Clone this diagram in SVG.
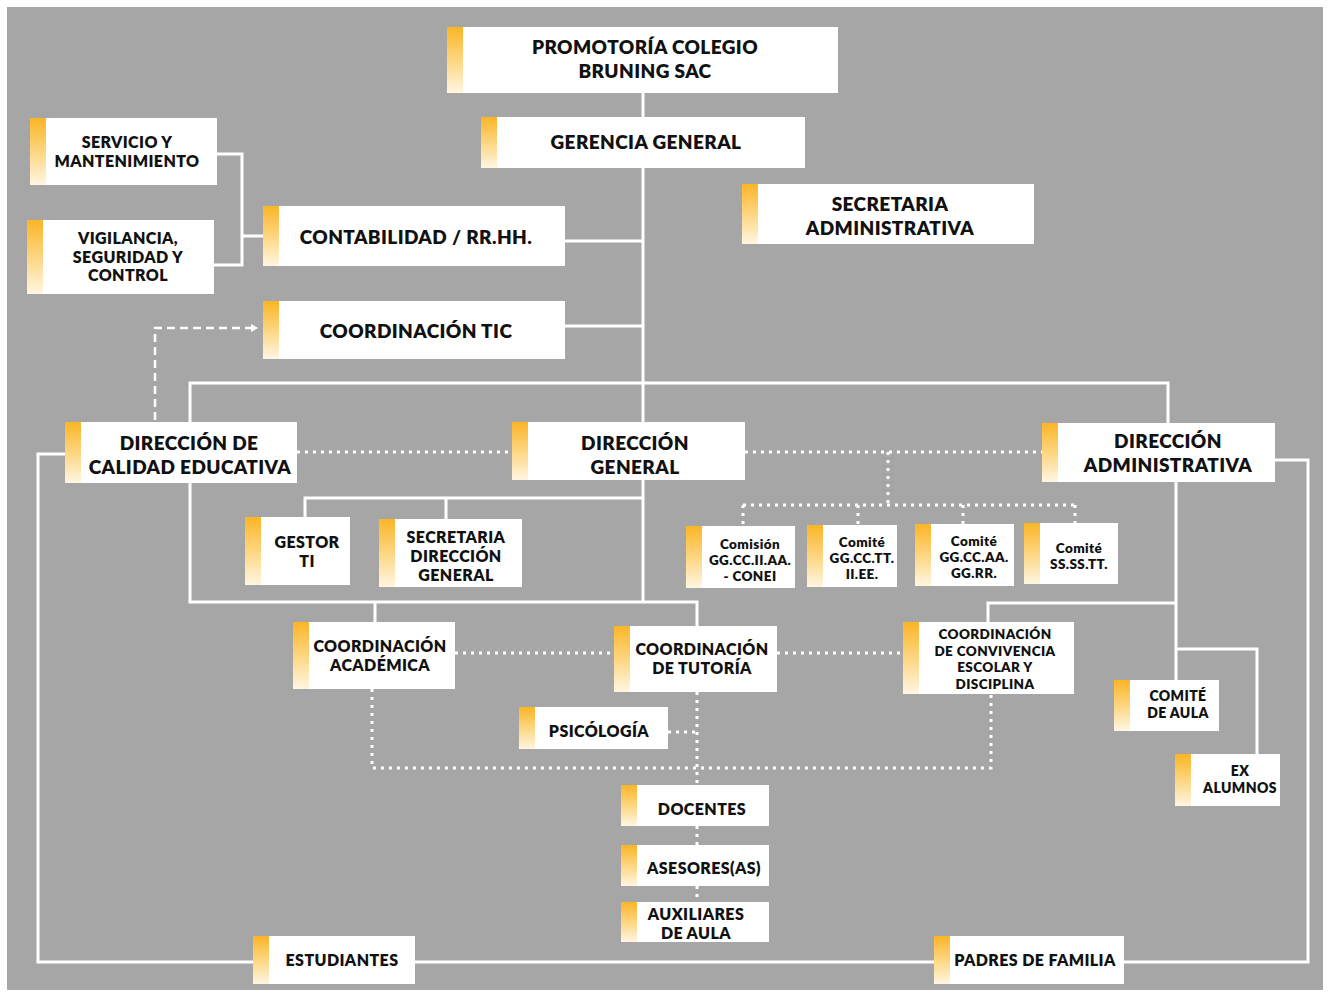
<svg xmlns="http://www.w3.org/2000/svg" width="1330" height="996" viewBox="0 0 1330 996">
<defs>
<linearGradient id="accg" x1="0" y1="0" x2="0" y2="1">
<stop offset="0" stop-color="#fbb526"/>
<stop offset="0.55" stop-color="#fdd98a"/>
<stop offset="1" stop-color="#fff6e2"/>
</linearGradient>
<marker id="arr" markerWidth="8" markerHeight="8" refX="6" refY="4" orient="auto" markerUnits="userSpaceOnUse">
<path d="M0,0 L7,4 L0,8 Z" fill="#ffffff"/>
</marker>
<style>
.box{fill:#ffffff}
.acc{fill:url(#accg)}
text{font-family:"Lato","Open Sans","DejaVu Sans",sans-serif;font-weight:800;fill:#111111;text-anchor:middle;letter-spacing:0.4px}
.t19{font-size:19px}
.t16{font-size:16px}
.t14{font-size:14px}
.t13{font-size:13.5px}
.solid{fill:none;stroke:#ffffff;stroke-width:3}
.dot{fill:none;stroke:#ffffff;stroke-width:3;stroke-dasharray:3 5}
.dash{fill:none;stroke:#ffffff;stroke-width:2.5;stroke-dasharray:8 5}
</style>
</defs>
<rect x="0" y="0" width="1330" height="996" fill="#ffffff"/>
<rect x="7" y="7" width="1316" height="983" fill="#a6a6a6"/>

<g id="connectors">
<path class="solid" d="M643 93 V422"/>
<path class="solid" d="M565 241 H643"/>
<path class="solid" d="M565 326 H643"/>
<path class="solid" d="M217 154 H242 V265 H214 M242 236 H263"/>
<path class="solid" d="M190 422 V383 H1168 V423"/>
<path class="solid" d="M190 483 V602 H697 V626 M643 480 V602 M375 602 V622"/>
<path class="solid" d="M305 517 V498 H643 M446 498 V519"/>
<path class="solid" d="M1176 482 V680 M988 622 V603 H1176 M1176 649 H1257 V754"/>
<path class="solid" d="M65 454 H38 V962 H253 M415 962 H934 M1124 962 H1308 V460 H1275"/>
<path class="dash" d="M155 420 V328 H257" marker-end="url(#arr)"/>
<path class="dot" d="M297 452 H512"/>
<path class="dot" d="M745 452 H1042"/>
<path class="dot" d="M888 452 V505 M743 505 H1075 M743 505 V526 M858 505 V525 M963 505 V524 M1075 505 V523"/>
<path class="dot" d="M455 653 H614 M777 653 H903"/>
<path class="dot" d="M372 689 V768 H991 V694"/>
<path class="dot" d="M697 692 V785 M697 826 V845 M697 886 V902"/>
<path class="dot" d="M668 732 H697"/>
</g>

<g id="n-promotoria"><rect class="box" x="447" y="27" width="391" height="66"/><rect class="acc" x="447" y="27" width="16" height="66"/><text class="t19" x="645"><tspan x="645" y="54">PROMOTORÍA COLEGIO</tspan><tspan x="645" y="78">BRUNING SAC</tspan></text></g>
<g id="n-gerencia"><rect class="box" x="481" y="117" width="324" height="51"/><rect class="acc" x="481" y="117" width="16" height="51"/><text class="t19" x="646" y="149">GERENCIA GENERAL</text></g>
<g id="n-servicio"><rect class="box" x="30" y="118" width="187" height="67"/><rect class="acc" x="30" y="118" width="16" height="67"/><text class="t16"><tspan x="127" y="148">SERVICIO Y</tspan><tspan x="127" y="167">MANTENIMIENTO</tspan></text></g>
<g id="n-vigilancia"><rect class="box" x="27" y="220" width="187" height="74"/><rect class="acc" x="27" y="220" width="16" height="74"/><text class="t16"><tspan x="128" y="244">VIGILANCIA,</tspan><tspan x="128" y="263">SEGURIDAD Y</tspan><tspan x="128" y="281">CONTROL</tspan></text></g>
<g id="n-contabilidad"><rect class="box" x="263" y="206" width="302" height="60"/><rect class="acc" x="263" y="206" width="16" height="60"/><text class="t19" x="416" y="244">CONTABILIDAD / RR.HH.</text></g>
<g id="n-secadmin"><rect class="box" x="742" y="184" width="292" height="60"/><rect class="acc" x="742" y="184" width="16" height="60"/><text class="t19"><tspan x="890" y="211">SECRETARIA</tspan><tspan x="890" y="235">ADMINISTRATIVA</tspan></text></g>
<g id="n-tic"><rect class="box" x="263" y="301" width="302" height="58"/><rect class="acc" x="263" y="301" width="16" height="58"/><text class="t19" x="416" y="338">COORDINACIÓN TIC</text></g>
<g id="n-dircalidad"><rect class="box" x="65" y="422" width="232" height="61"/><rect class="acc" x="65" y="422" width="16" height="61"/><text class="t19"><tspan x="189" y="450">DIRECCIÓN DE</tspan><tspan x="190" y="474">CALIDAD EDUCATIVA</tspan></text></g>
<g id="n-dirgeneral"><rect class="box" x="512" y="422" width="233" height="58"/><rect class="acc" x="512" y="422" width="16" height="58"/><text class="t19"><tspan x="635" y="450">DIRECCIÓN</tspan><tspan x="635" y="474">GENERAL</tspan></text></g>
<g id="n-diradmin"><rect class="box" x="1042" y="423" width="233" height="59"/><rect class="acc" x="1042" y="423" width="16" height="59"/><text class="t19"><tspan x="1168" y="448">DIRECCIÓN</tspan><tspan x="1168" y="472">ADMINISTRATIVA</tspan></text></g>
<g id="n-gestor"><rect class="box" x="245" y="517" width="105" height="68"/><rect class="acc" x="245" y="517" width="16" height="68"/><text class="t16"><tspan x="307" y="548">GESTOR</tspan><tspan x="307" y="567">TI</tspan></text></g>
<g id="n-secdg"><rect class="box" x="379" y="519" width="143" height="68"/><rect class="acc" x="379" y="519" width="16" height="68"/><text class="t16"><tspan x="456" y="543">SECRETARIA</tspan><tspan x="456" y="562">DIRECCIÓN</tspan><tspan x="456" y="581">GENERAL</tspan></text></g>
<g id="n-conei"><rect class="box" x="686" y="526" width="109" height="62"/><rect class="acc" x="686" y="526" width="16" height="62"/><text class="t13"><tspan x="750" y="549">Comisión</tspan><tspan x="750" y="565">GG.CC.II.AA.</tspan><tspan x="750" y="581">- CONEI</tspan></text></g>
<g id="n-ggcctt"><rect class="box" x="807" y="525" width="90" height="62"/><rect class="acc" x="807" y="525" width="16" height="62"/><text class="t13"><tspan x="862" y="547">Comité</tspan><tspan x="862" y="563">GG.CC.TT.</tspan><tspan x="862" y="579">II.EE.</tspan></text></g>
<g id="n-ggccaa"><rect class="box" x="915" y="524" width="99" height="62"/><rect class="acc" x="915" y="524" width="16" height="62"/><text class="t13"><tspan x="974" y="546">Comité</tspan><tspan x="974" y="562">GG.CC.AA.</tspan><tspan x="974" y="578">GG.RR.</tspan></text></g>
<g id="n-sssstt"><rect class="box" x="1024" y="523" width="94" height="61"/><rect class="acc" x="1024" y="523" width="16" height="61"/><text class="t13"><tspan x="1079" y="553">Comité</tspan><tspan x="1079" y="569">SS.SS.TT.</tspan></text></g>
<g id="n-academica"><rect class="box" x="293" y="622" width="162" height="67"/><rect class="acc" x="293" y="622" width="16" height="67"/><text class="t16"><tspan x="380" y="652">COORDINACIÓN</tspan><tspan x="380" y="671">ACADÉMICA</tspan></text></g>
<g id="n-tutoria"><rect class="box" x="614" y="626" width="163" height="66"/><rect class="acc" x="614" y="626" width="16" height="66"/><text class="t16"><tspan x="702" y="655">COORDINACIÓN</tspan><tspan x="702" y="674">DE TUTORÍA</tspan></text></g>
<g id="n-convivencia"><rect class="box" x="903" y="622" width="171" height="72"/><rect class="acc" x="903" y="622" width="16" height="72"/><text class="t13"><tspan x="995" y="639">COORDINACIÓN</tspan><tspan x="995" y="656">DE CONVIVENCIA</tspan><tspan x="995" y="672">ESCOLAR Y</tspan><tspan x="995" y="689">DISCIPLINA</tspan></text></g>
<g id="n-psicologia"><rect class="box" x="519" y="707" width="149" height="42"/><rect class="acc" x="519" y="707" width="16" height="42"/><text class="t16" x="599" y="737">PSICÓLOGÍA</text></g>
<g id="n-comiteaula"><rect class="box" x="1114" y="680" width="105" height="51"/><rect class="acc" x="1114" y="680" width="16" height="51"/><text class="t14"><tspan x="1178" y="701">COMITÉ</tspan><tspan x="1178" y="718">DE AULA</tspan></text></g>
<g id="n-exalumnos"><rect class="box" x="1175" y="754" width="105" height="52"/><rect class="acc" x="1175" y="754" width="16" height="52"/><text class="t14"><tspan x="1240" y="776">EX</tspan><tspan x="1240" y="793">ALUMNOS</tspan></text></g>
<g id="n-docentes"><rect class="box" x="621" y="785" width="148" height="41"/><rect class="acc" x="621" y="785" width="16" height="41"/><text class="t16" x="702" y="815">DOCENTES</text></g>
<g id="n-asesores"><rect class="box" x="621" y="845" width="148" height="41"/><rect class="acc" x="621" y="845" width="16" height="41"/><text class="t16" x="704" y="874">ASESORES(AS)</text></g>
<g id="n-auxiliares"><rect class="box" x="621" y="902" width="148" height="40"/><rect class="acc" x="621" y="902" width="16" height="40"/><text class="t16"><tspan x="696" y="920">AUXILIARES</tspan><tspan x="696" y="939">DE AULA</tspan></text></g>
<g id="n-estudiantes"><rect class="box" x="253" y="936" width="162" height="48"/><rect class="acc" x="253" y="936" width="16" height="48"/><text class="t16" x="342" y="966">ESTUDIANTES</text></g>
<g id="n-padres"><rect class="box" x="934" y="936" width="190" height="48"/><rect class="acc" x="934" y="936" width="16" height="48"/><text class="t16" x="1035" y="966">PADRES DE FAMILIA</text></g>
</svg>
